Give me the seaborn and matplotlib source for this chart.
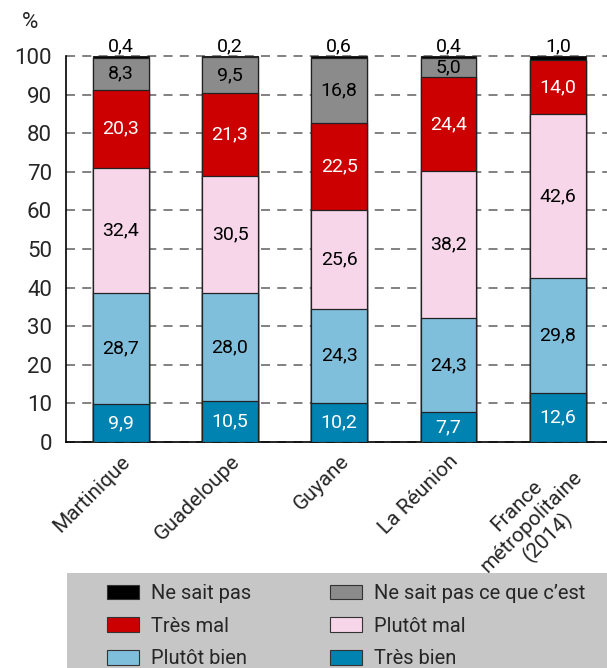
import numpy as np
import pandas as pd
import matplotlib
matplotlib.use("Agg")
import matplotlib.pyplot as plt
import seaborn as sns
from matplotlib.patches import Rectangle, Patch

# data (%), bottom -> top
territoires = ["Martinique", "Guadeloupe", "Guyane", "La Réunion",
               "France\nmétropolitaine\n(2014)"]
tres_bien = [9.9, 10.5, 10.2, 7.7, 12.6]
plutot_bien = [28.7, 28.0, 24.3, 24.3, 29.8]
plutot_mal = [32.4, 30.5, 25.6, 38.2, 42.6]
tres_mal = [20.3, 21.3, 22.5, 24.4, 14.0]
ne_sait_pas_ce = [8.3, 9.5, 16.8, 5.0, 0.0]
ne_sait_pas = [0.4, 0.2, 0.6, 0.4, 1.0]

categories = ["Très bien", "Plutôt bien", "Plutôt mal", "Très mal",
              "Ne sait pas ce que c\u2019est", "Ne sait pas"]
series = [tres_bien, plutot_bien, plutot_mal, tres_mal, ne_sait_pas_ce, ne_sait_pas]
colors = ["#0083b1", "#80bfdc", "#f7d6ea", "#cc0000", "#8a8b8a", "#000000"]
text_colors = ["white", "black", "black", "white", "black", "black"]

sns.set_style("white")
plt.rcParams["font.family"] = ["Roboto", "DejaVu Sans"]

fig = plt.figure(figsize=(6.07, 6.68), dpi=100)
ax = fig.add_axes([66 / 607, 1 - 442 / 668, 541 / 607, 386 / 668])

vals = np.array(series)
cum = np.cumsum(vals, axis=0)

# draw cumulative layers from top to bottom so lower segments cover upper ones
for i in range(len(categories) - 1, -1, -1):
    df = pd.DataFrame({"territoire": territoires, "cum": cum[i]})
    sns.barplot(data=df, x="territoire", y="cum", color=colors[i], saturation=1,
                width=0.51, edgecolor="#222222", linewidth=0.9, ax=ax, zorder=3)

# value labels
for j in range(len(territoires)):
    for i in range(len(categories) - 1):
        v = vals[i, j]
        if v <= 0:
            continue
        y = cum[i, j] - v / 2
        ax.text(j, y, f"{v:.1f}".replace(".", ","), ha="center", va="center",
                color=text_colors[i], fontsize=14, zorder=5)
    ax.text(j, 100.2, f"{vals[-1, j]:.1f}".replace(".", ","), ha="center",
            va="bottom", color="black", fontsize=14, zorder=5)

ax.set_xlim(-0.5, 4.45)
ax.set_ylim(0, 100)
ax.set_yticks(range(0, 101, 10))
ax.set_xticks(np.arange(-0.5, 4.5, 1.0), minor=True)
ax.tick_params(axis="x", which="major", length=0, pad=7)
ax.tick_params(axis="x", which="minor", length=8, width=1, color="#444444",
               direction="out")
ax.tick_params(axis="y", length=7, width=1, color="#444444", direction="out",
               labelsize=16, pad=3)
ax.set_xticklabels(territoires, rotation=45, ha="right", rotation_mode="anchor",
                   multialignment="center", fontsize=15, linespacing=1.15)
ax.set_xlabel("")
ax.set_ylabel("")

ax.yaxis.grid(True, linestyle=(0, (5, 4)), color="#777777", linewidth=1.3)
for gl in ax.get_ygridlines():
    gl.set_clip_on(False)
ax.set_axisbelow(True)

for s in ["top", "right"]:
    ax.spines[s].set_visible(False)
for s in ["left", "bottom"]:
    ax.spines[s].set_color("black")
    ax.spines[s].set_linewidth(1.2)

fig.text(30 / 607, 1 - 22 / 668, "%", ha="center", va="center", fontsize=16)

# legend box
fig.patches.append(Rectangle((67 / 607, 0), 540 / 607, 95 / 668,
                             transform=fig.transFigure, facecolor="#c6c6c6",
                             edgecolor="none", zorder=0))
order = [5, 3, 1, 4, 2, 0]
handles = [Patch(facecolor=colors[k], edgecolor="#333333", linewidth=0.8,
                 label=categories[k]) for k in order]
fig.legend(handles=handles, ncol=2, loc="upper left",
           bbox_to_anchor=(95 / 607, 1 - 572 / 668), frameon=False,
           fontsize=14.5, handlelength=1.6, handleheight=0.75,
           columnspacing=3.9, labelspacing=0.68, handletextpad=0.6,
           borderaxespad=0.2)

fig.savefig("out.png", dpi=100)
